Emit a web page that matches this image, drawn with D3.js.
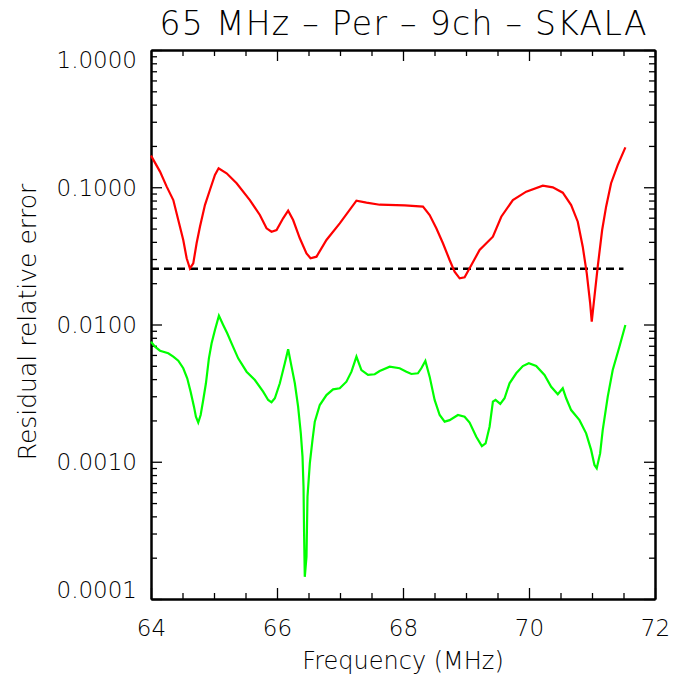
<!DOCTYPE html>
<html>
<head>
<meta charset="utf-8">
<script src="https://cdn.jsdelivr.net/npm/d3@7"></script>
<style>
  body { margin: 0; background: #fff; }
  text { font-family: "DejaVu Sans", sans-serif; font-weight: 200; fill: #000; }
</style>
</head>
<body>
<div id="chart"></div>
<script>
// red curve (upper)
var redFreq = [64.0, 64.143, 64.249, 64.354, 64.433, 64.512, 64.566, 64.618, 64.671, 64.724,
    64.777, 64.856, 64.935, 65.015, 65.073, 65.2, 65.359, 65.569, 65.728, 65.834,
    65.913, 65.993, 66.097, 66.177, 66.256, 66.362, 66.468, 66.532, 66.627, 66.785,
    66.996, 67.261, 67.42, 67.63, 68.027, 68.317, 68.423, 68.529, 68.634, 68.74,
    68.819, 68.899, 68.978, 69.057, 69.216, 69.427, 69.56, 69.744, 69.956, 70.219,
    70.378, 70.536, 70.669, 70.774, 70.853, 70.917, 70.971, 70.996, 71.039, 71.091,
    71.161, 71.224, 71.303, 71.408, 71.53];
var redVal = [0.170, 0.130, 0.101, 0.0807, 0.0577, 0.0413, 0.0304, 0.0256, 0.0279, 0.0391,
    0.0516, 0.0742, 0.0955, 0.123, 0.1375, 0.1264, 0.107, 0.0807, 0.0628, 0.0502,
    0.0474, 0.0488, 0.0594, 0.0675, 0.0577, 0.0425, 0.0330, 0.0304, 0.0312, 0.0413,
    0.0546, 0.0798, 0.0772, 0.0746, 0.0739, 0.0722, 0.0628, 0.0502, 0.0391, 0.0295,
    0.0243, 0.0217, 0.0221, 0.0257, 0.0349, 0.0436, 0.0610, 0.0807, 0.0929, 0.1026,
    0.0999, 0.0913, 0.0742, 0.0561, 0.0369, 0.0236, 0.01427, 0.01048, 0.01594, 0.0264,
    0.0488, 0.0722, 0.107, 0.145, 0.1954];

// green curve (lower)
var greenFreq = [64.0, 64.063, 64.143, 64.274, 64.354, 64.433, 64.512, 64.575, 64.629, 64.682,
    64.713, 64.75, 64.788, 64.829, 64.872, 64.919, 64.962, 65.015, 65.078, 65.146,
    65.21, 65.279, 65.384, 65.517, 65.649, 65.78, 65.86, 65.913, 65.966, 66.045,
    66.124, 66.177, 66.231, 66.283, 66.335, 66.378, 66.405, 66.421, 66.43, 66.441,
    66.468, 66.484, 66.521, 66.563, 66.6, 66.679, 66.785, 66.89, 66.996, 67.102,
    67.182, 67.261, 67.34, 67.445, 67.551, 67.63, 67.789, 67.947, 68.054, 68.133,
    68.237, 68.291, 68.355, 68.423, 68.502, 68.582, 68.661, 68.74, 68.872, 68.978,
    69.057, 69.163, 69.252, 69.311, 69.374, 69.427, 69.469, 69.544, 69.612, 69.691,
    69.797, 69.902, 69.997, 70.114, 70.246, 70.352, 70.457, 70.536, 70.59, 70.669,
    70.801, 70.907, 70.986, 71.039, 71.075, 71.129, 71.17, 71.25, 71.329, 71.435, 71.53];
var greenVal = [0.00749, 0.00689, 0.00644, 0.00617, 0.00583, 0.00545, 0.00480, 0.00406, 0.00324, 0.00252,
    0.00213, 0.00193, 0.00219, 0.00282, 0.00373, 0.00567, 0.00729, 0.00912, 0.01159, 0.00992,
    0.00863, 0.00729, 0.00567, 0.00453, 0.00394, 0.00324, 0.00282, 0.00271, 0.00290, 0.00373,
    0.00522, 0.00660, 0.00493, 0.00373, 0.00252, 0.00161, 0.00109, 0.000658, 0.000301, 0.000145,
    0.000203, 0.000556, 0.000974, 0.00144, 0.00196, 0.00259, 0.00306, 0.00337, 0.00343, 0.00383,
    0.00453, 0.00583, 0.00466, 0.00429, 0.00434, 0.00458, 0.00493, 0.00480, 0.00453, 0.00436,
    0.00441, 0.00480, 0.00542, 0.00417, 0.00282, 0.00219, 0.00196, 0.00201, 0.00219, 0.00213,
    0.00193, 0.00152, 0.00130, 0.00136, 0.00180, 0.00274, 0.00282, 0.00264, 0.00290, 0.00373,
    0.00441, 0.00498, 0.00522, 0.00498, 0.00429, 0.00352, 0.00310, 0.00343, 0.00290, 0.00238,
    0.00201, 0.00161, 0.00122, 0.000947, 0.000896, 0.00115, 0.00170, 0.00298, 0.00466, 0.00689, 0.00992];

// dashed threshold
var threshFreq = [64, 71.5];
var threshVal = [0.0255, 0.0255];

var xMajor = [64, 66, 68, 70, 72];
var yMajor = [0.0001, 0.001, 0.01, 0.1, 1];

var title = "65 MHz \u2013 Per \u2013 9ch \u2013 SKALA";
var xTitle = "Frequency (MHz)";
var yTitle = "Residual relative error";

var W = 700, H = 700;
var mLeft = 151, mRight = 655, mTop = 50, mBottom = 599;

var svg = d3.select("#chart").append("svg")
    .attr("width", W)
    .attr("height", H);

var x = d3.scaleLinear().domain([64, 72]).range([mLeft, mRight]);
var y = d3.scaleLog().domain([0.0001, 1]).range([mBottom, mTop]);

// minor tick values
var xMinor = d3.range(64, 72.01, 0.5).filter(function (v) { return xMajor.indexOf(v) < 0; });
var yMinor = [];
for (var e = -4; e < 0; e++) {
    for (var m = 2; m <= 9; m++) yMinor.push(m * Math.pow(10, e));
}

function styleAxis(g) {
    g.select(".domain").attr("stroke", "#000").attr("stroke-width", 2);
    g.selectAll(".tick line").attr("stroke", "#000").attr("stroke-width", 1.3);
    g.selectAll("text").attr("fill", "#000").style("font-size", "23px")
        .attr("font-family", null);
}

// bottom axis: majors with labels
svg.append("g")
    .attr("transform", `translate(0, ${mBottom})`)
    .call(d3.axisBottom(x).tickValues(xMajor).tickSizeInner(-11).tickSizeOuter(0).tickPadding(21)
        .tickFormat(d3.format("d")))
    .call(styleAxis);
svg.append("g")
    .attr("transform", `translate(0, ${mBottom})`)
    .call(d3.axisBottom(x).tickValues(xMinor).tickSizeInner(-6).tickSizeOuter(0).tickFormat(""))
    .call(styleAxis);

// top axis, ticks only
svg.append("g")
    .attr("transform", `translate(0, ${mTop})`)
    .call(d3.axisTop(x).tickValues(xMajor).tickSizeInner(-11).tickSizeOuter(0).tickFormat(""))
    .call(styleAxis);
svg.append("g")
    .attr("transform", `translate(0, ${mTop})`)
    .call(d3.axisTop(x).tickValues(xMinor).tickSizeInner(-6).tickSizeOuter(0).tickFormat(""))
    .call(styleAxis);

// left axis with labels
var yl = svg.append("g")
    .attr("transform", `translate(${mLeft}, 0)`)
    .call(d3.axisLeft(y).tickValues(yMajor).tickSizeInner(-11).tickSizeOuter(0).tickPadding(14)
        .tickFormat(d3.format(".4f")))
    .call(styleAxis);
// IDL keeps the end labels inside the axis range
yl.selectAll(".tick text").attr("dy", function (d) {
    if (d === 1) return "0.75em";
    if (d === 0.0001) return "-0.05em";
    return "0.35em";
});
svg.append("g")
    .attr("transform", `translate(${mLeft}, 0)`)
    .call(d3.axisLeft(y).tickValues(yMinor).tickSizeInner(-6).tickSizeOuter(0).tickFormat(""))
    .call(styleAxis);

// right axis, ticks only
svg.append("g")
    .attr("transform", `translate(${mRight}, 0)`)
    .call(d3.axisRight(y).tickValues(yMajor).tickSizeInner(-11).tickSizeOuter(0).tickFormat(""))
    .call(styleAxis);
svg.append("g")
    .attr("transform", `translate(${mRight}, 0)`)
    .call(d3.axisRight(y).tickValues(yMinor).tickSizeInner(-6).tickSizeOuter(0).tickFormat(""))
    .call(styleAxis);

var line = d3.line()
    .x(function (d) { return x(d[0]); })
    .y(function (d) { return y(d[1]); });

svg.append("path")
    .datum(d3.zip(threshFreq, threshVal))
    .attr("fill", "none")
    .attr("stroke", "#000")
    .attr("stroke-width", 2.5)
    .attr("stroke-dasharray", "8,5")
    .attr("d", line);

svg.append("path")
    .datum(d3.zip(redFreq, redVal))
    .attr("fill", "none")
    .attr("stroke", "#ff0000")
    .attr("stroke-width", 2.2)
    .attr("d", line);

svg.append("path")
    .datum(d3.zip(greenFreq, greenVal))
    .attr("fill", "none")
    .attr("stroke", "#00ff00")
    .attr("stroke-width", 2.2)
    .attr("d", line);

// titles
svg.append("text")
    .attr("x", (mLeft + mRight) / 2)
    .attr("y", 35)
    .attr("text-anchor", "middle")
    .attr("textLength", 487)
    .attr("lengthAdjust", "spacing")
    .style("font-size", "33px")
    .text(title);

svg.append("text")
    .attr("x", (mLeft + mRight) / 2)
    .attr("y", 669)
    .attr("text-anchor", "middle")
    .style("font-size", "24px")
    .text(xTitle);

svg.append("text")
    .attr("transform", "translate(36, 322) rotate(-90)")
    .attr("text-anchor", "middle")
    .style("font-size", "25px")
    .text(yTitle);
</script>
</body>
</html>
